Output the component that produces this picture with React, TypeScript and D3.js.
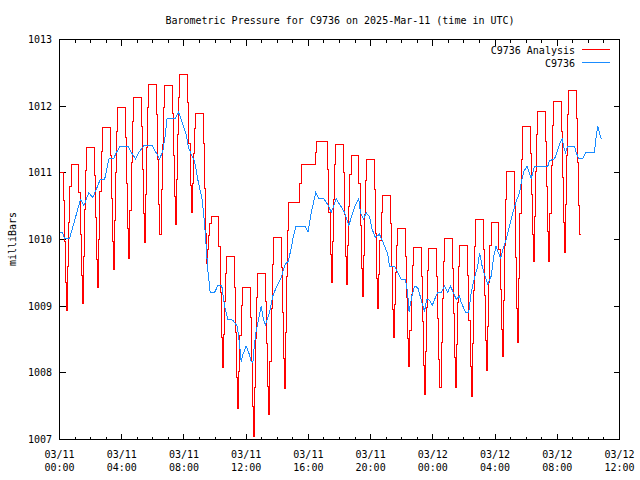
import React from "react";
import * as d3 from "d3";

const title = "Barometric Pressure for C9736 on 2025-Mar-11 (time in UTC)";
const yAxisLabel = "milliBars";
const seriesNames = ["C9736 Analysis", "C9736"];
const seriesColors = ["#ff0000", "#1a8cff"];

const yTicks = [1007, 1008, 1009, 1010, 1011, 1012, 1013];
const xTickHours = [0, 4, 8, 12, 16, 20, 24, 28, 32, 36];
const xTickDates = ["03/11", "03/11", "03/11", "03/11", "03/11", "03/11", "03/12", "03/12", "03/12", "03/12"];
const xTickTimes = ["00:00", "04:00", "08:00", "12:00", "16:00", "20:00", "00:00", "04:00", "08:00", "12:00"];

// Analysis: hourly plateau value and the low of the dip that follows it (null = no dip)
const analysisPeak = [
  1011.0, 1011.12, 1011.38, 1011.68, 1011.98, 1012.13, 1012.33, 1012.31, 1012.47, 1011.89,
  1010.34, 1009.74, 1009.28, 1009.49, 1010.03, 1010.55, 1011.13, 1011.47, 1011.43, 1011.26,
  1011.2, 1010.66, 1010.16, 1009.88, 1009.86, 1010.01, 1009.91, 1010.3, 1010.25, 1011.02,
  1011.69, 1011.92, 1012.07, 1012.24,
];
const analysisDip: (number | null)[] = [
  1008.94, 1009.04, 1009.28, 1009.55, 1009.71, 1009.96, 1010.08, 1010.22, 1010.4, 1009.64,
  1008.08, 1007.47, 1007.05, 1007.38, 1007.77, null, null, 1009.35, 1009.33, 1009.15,
  1008.97, 1008.53, 1008.1, 1007.67, 1007.78, 1007.78, 1007.65, 1008.03, 1008.25, 1008.45,
  1009.67, 1009.67, 1009.8, 1010.08,
];
// shape of each dip (fraction of the drop / rise at successive 5-minute samples)
const dipDescent = [0.2, 0.5, 0.8, 1];
const dipAscent = [0.3, 0.6, 0.85];

// Observations: hours since 03/11 00:00 UTC and pressure
const obsHours = [
  0, 0.21, 0.32, 0.64, 1.35, 1.57, 1.88, 2.15, 2.62, 2.9, 3.18, 3.49, 3.6, 3.89, 4.4, 4.63, 4.89, 5.14, 5.43,
  5.95, 6.22, 6.43, 6.64, 6.79, 6.91, 7.42, 7.65, 7.93, 8.14, 8.29, 8.47, 8.68, 8.89, 9.03, 9.17, 9.32, 9.43,
  9.53, 9.69, 9.96, 10.18, 10.43, 10.61, 10.82, 11.14, 11.42, 11.57, 11.68, 11.78, 12.0, 12.17, 12.32, 12.43,
  12.54, 12.64, 12.79, 12.97, 13.11, 13.24, 13.5, 13.71, 13.97, 14.25, 14.51, 14.72, 14.9, 15.04, 15.2, 15.78,
  15.97, 16.18, 16.47, 16.68, 16.99, 17.25, 17.47, 17.63, 17.79, 18.0, 18.32, 18.6, 18.75, 18.96, 19.24, 19.35,
  19.54, 19.72, 19.93, 20.1, 20.31, 20.57, 20.85, 21.1, 21.21, 21.53, 21.75, 21.96, 22.24, 22.37, 22.47, 22.65,
  22.82, 23.03, 23.25, 23.46, 23.61, 23.78, 23.96, 24.11, 24.32, 24.54, 24.75, 24.96, 25.13, 25.33, 25.5, 25.71,
  25.82, 26.1, 26.31, 26.46, 26.68, 26.89, 27.0, 27.17, 27.38, 27.53, 27.75, 27.92, 28.06, 28.22, 28.36, 28.5,
  28.71, 28.93, 29.14, 29.36, 29.57, 29.72, 29.85, 30.06, 30.17, 30.32, 30.53, 31.39, 31.5, 31.82, 31.97, 32.14,
  32.31, 32.42, 32.53, 32.67, 33.1, 33.21, 33.38, 33.63, 33.81, 34.39, 34.45, 34.6, 34.71, 34.82,
];
const obsValues = [
  1010.11, 1010.1, 1010.01, 1010.01, 1010.6, 1010.51, 1010.7, 1010.63, 1010.9, 1010.9, 1011.21, 1011.21, 1011.28,
  1011.4, 1011.4, 1011.3, 1011.21, 1011.32, 1011.41, 1011.41, 1011.3, 1011.21, 1011.32, 1011.55, 1011.81, 1011.81,
  1011.91, 1011.73, 1011.58, 1011.38, 1011.28, 1011.18, 1010.9, 1010.75, 1010.6, 1010.25, 1009.9, 1009.55, 1009.2,
  1009.2, 1009.31, 1009.31, 1009.0, 1008.8, 1008.79, 1008.7, 1008.45, 1008.17, 1008.27, 1008.4, 1008.3, 1008.17,
  1008.15, 1008.45, 1008.62, 1008.8, 1009.0, 1008.8, 1008.72, 1008.9, 1009.15, 1009.3, 1009.43, 1009.63, 1009.68,
  1009.88, 1010.05, 1010.2, 1010.2, 1010.11, 1010.4, 1010.7, 1010.61, 1010.61, 1010.52, 1010.41, 1010.5, 1010.61,
  1010.53, 1010.41, 1010.21, 1010.33, 1010.48, 1010.61, 1010.4, 1010.31, 1010.4, 1010.34, 1010.15, 1010.03,
  1010.08, 1009.93, 1009.78, 1009.6, 1009.6, 1009.5, 1009.4, 1009.4, 1009.22, 1008.92, 1009.15, 1009.3, 1009.28,
  1009.1, 1008.92, 1009.1, 1009.09, 1009.01, 1009.1, 1009.21, 1009.21, 1009.3, 1009.21, 1009.3, 1009.2, 1009.1,
  1009.15, 1009.06, 1008.91, 1008.91, 1009.2, 1009.43, 1009.6, 1009.8, 1009.6, 1009.43, 1009.33, 1009.45,
  1009.75, 1009.9, 1009.8, 1009.72, 1009.85, 1010.0, 1010.2, 1010.4, 1010.57, 1010.7, 1010.9, 1011.02, 1011.1,
  1011.02, 1010.91, 1011.1, 1011.1, 1011.18, 1011.21, 1011.3, 1011.43, 1011.51, 1011.38, 1011.31, 1011.4, 1011.4,
  1011.31, 1011.21, 1011.21, 1011.3, 1011.3, 1011.45, 1011.7, 1011.6, 1011.51,
];

const W = 640;
const H = 480;
const left = 59.5;
const right = 619.5;
const top = 39.5;
const bottom = 439.5;
const FONT = "'DejaVu Sans Mono', 'Liberation Mono', monospace";

function buildAnalysis(): [number, number][] {
  const pts: [number, number][] = [[0, analysisPeak[0]]];
  const stepH = 0.07;
  for (let k = 0; k < analysisPeak.length; k++) {
    const P = analysisPeak[k];
    const L = analysisDip[k];
    const e = k + 0.25;
    const next = analysisPeak[k + 1];
    if (L === null) {
      pts.push([e + 0.2, (P + next) / 2]);
      pts.push([e + 0.3, next]);
      continue;
    }
    dipDescent.forEach((f, i) => pts.push([e + i * stepH, P - f * (P - L)]));
    if (next === undefined) {
      pts.push([e + dipDescent.length * stepH, L]);
      break;
    }
    dipAscent.forEach((f, i) => pts.push([e + (dipDescent.length + i) * stepH, L + f * (next - L)]));
    pts.push([e + (dipDescent.length + dipAscent.length) * stepH, next]);
  }
  return pts;
}

export default function App() {
  const x = d3.scaleLinear().domain([0, 36]).range([left, right]);
  const y = d3.scaleLinear().domain([1007, 1013]).range([bottom, top]);

  const analysis = buildAnalysis();
  const obs: [number, number][] = obsHours.map((h, i) => [h, obsValues[i]]);

  const stepLine = d3
    .line<[number, number]>()
    .x((d) => x(d[0]))
    .y((d) => y(d[1]))
    .curve(d3.curveStepAfter);
  const line = d3
    .line<[number, number]>()
    .x((d) => x(d[0]))
    .y((d) => y(d[1]));

  const minorHours = d3.range(0, 37);

  return (
    <svg
      width={W}
      height={H}
      style={{ position: "absolute", left: 0, top: 0, background: "#fff" }}
      fontFamily={FONT}
      fontSize={10}
    >
      <rect x={0} y={0} width={W} height={H} fill="#fff" />
      <text x={340} y={20} textAnchor="middle" dominantBaseline="central" fill="#000">
        {title}
      </text>
      <text
        transform={`translate(12,239) rotate(-90)`}
        textAnchor="middle"
        dominantBaseline="central"
        fill="#000"
      >
        {yAxisLabel}
      </text>

      {/* y ticks */}
      {yTicks.map((t) => (
        <g key={t}>
          <line x1={left} x2={left + 6} y1={y(t)} y2={y(t)} stroke="#000" shapeRendering="crispEdges" />
          <line x1={right - 6} x2={right} y1={y(t)} y2={y(t)} stroke="#000" shapeRendering="crispEdges" />
          <text x={52} y={y(t)} textAnchor="end" dominantBaseline="central" fill="#000">
            {t}
          </text>
        </g>
      ))}

      {/* x ticks */}
      {minorHours.map((h) => {
        const major = h % 4 === 0;
        const len = major ? 6 : 3;
        return (
          <g key={h}>
            <line x1={x(h)} x2={x(h)} y1={bottom} y2={bottom - len} stroke="#000" shapeRendering="crispEdges" />
            <line x1={x(h)} x2={x(h)} y1={top} y2={top + len} stroke="#000" shapeRendering="crispEdges" />
          </g>
        );
      })}
      {xTickHours.map((h, i) => (
        <g key={h}>
          <text x={x(h)} y={454} textAnchor="middle" dominantBaseline="central" fill="#000">
            {xTickDates[i]}
          </text>
          <text x={x(h)} y={467} textAnchor="middle" dominantBaseline="central" fill="#000">
            {xTickTimes[i]}
          </text>
        </g>
      ))}

      {/* series */}
      <path d={stepLine(analysis) || ""} fill="none" stroke={seriesColors[0]} strokeWidth={1} shapeRendering="crispEdges" />
      <path d={line(obs) || ""} fill="none" stroke={seriesColors[1]} strokeWidth={1} shapeRendering="crispEdges" />

      {/* frame */}
      <rect
        x={left}
        y={top}
        width={right - left}
        height={bottom - top}
        fill="none"
        stroke="#000"
        shapeRendering="crispEdges"
      />

      {/* legend */}
      {seriesNames.map((n, i) => (
        <g key={n}>
          <text x={575} y={50.5 + i * 13} textAnchor="end" dominantBaseline="central" fill="#000">
            {n}
          </text>
          <line
            x1={582}
            x2={610}
            y1={49.5 + i * 13}
            y2={49.5 + i * 13}
            stroke={seriesColors[i]}
            strokeWidth={1}
            shapeRendering="crispEdges"
          />
        </g>
      ))}
    </svg>
  );
}
